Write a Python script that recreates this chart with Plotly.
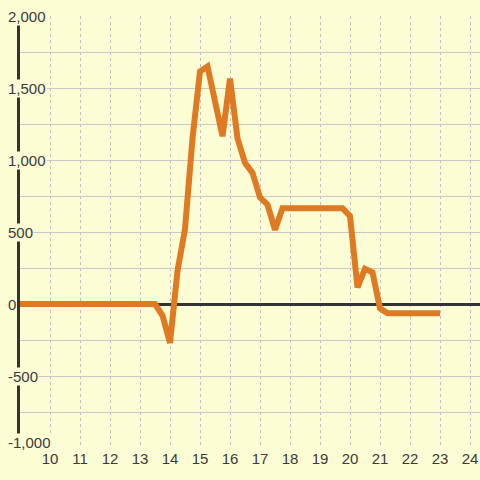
import plotly.graph_objects as go

# Data (hour of day vs value)
hours = [9, 13.5, 13.75, 14.0, 14.25, 14.5, 14.75, 15.0, 15.25, 15.5, 15.75, 16.0,
         16.25, 16.5, 16.75, 17.0, 17.25, 17.5, 17.75, 19.75, 20.0, 20.25, 20.5,
         20.75, 21.0, 21.25, 23.0]
values = [0, 0, -80, -270, 230, 520, 1150, 1615, 1650, 1400, 1165, 1565,
          1150, 980, 910, 740, 690, 515, 665, 665, 610, 115, 245,
          220, -30, -65, -65]

x_ticks = [10, 11, 12, 13, 14, 15, 16, 17, 18, 19, 20, 21, 22, 23, 24]
y_labels = [2000, 1500, 1000, 500, 0, -500, -1000]
y_grid = [-1000, -750, -500, -250, 0, 250, 500, 750, 1000, 1250, 1500, 1750, 2000]

BG = "#FDFDD5"
TXT = "#3A3A3A"
FONT = "Liberation Sans, Arial, sans-serif"
FS = 15

fig = go.Figure()
fig.add_trace(go.Scatter(
    x=hours, y=values, mode="lines",
    line=dict(color="#E07A22", width=6),
    hoverinfo="skip", showlegend=False,
))

L, W = 20, 460
annotations = []
for v in y_labels:
    annotations.append(dict(
        xref="paper", yref="y", x=(7 - L) / W, y=v,
        xanchor="left", yanchor="middle", showarrow=False,
        yshift=6 if v == min(y_labels) else 0,
        text=f"{v:,}", font=dict(family=FONT, size=FS, color=TXT),
        bgcolor=BG, borderpad=0,
    ))

fig.update_layout(
    width=480, height=480,
    margin=dict(l=20, r=0, t=16, b=32),
    paper_bgcolor=BG, plot_bgcolor=BG,
    annotations=annotations,
    font=dict(family=FONT, size=FS, color=TXT),
    xaxis=dict(range=[9, 9 + W / 30], tickvals=x_ticks,
               ticktext=[str(t) for t in x_ticks],
               showgrid=True, gridcolor="#C0C0C0", griddash="dot", gridwidth=1,
               zeroline=False, showline=False, ticks="", ticklabelstandoff=0,
               tickfont=dict(family=FONT, size=FS, color=TXT)),
    yaxis=dict(range=[-1000, 2000], tickvals=y_grid, showgrid=True,
               gridcolor="#C8C8C8", gridwidth=1, showticklabels=False,
               zeroline=True, zerolinecolor="#333333", zerolinewidth=3,
               showline=True, linecolor="#333333", linewidth=3, ticks=""),
)

fig.write_html("out.html", config={"displayModeBar": False},
               post_script="document.body.style.margin='0';document.body.style.background='%s';" % BG)
